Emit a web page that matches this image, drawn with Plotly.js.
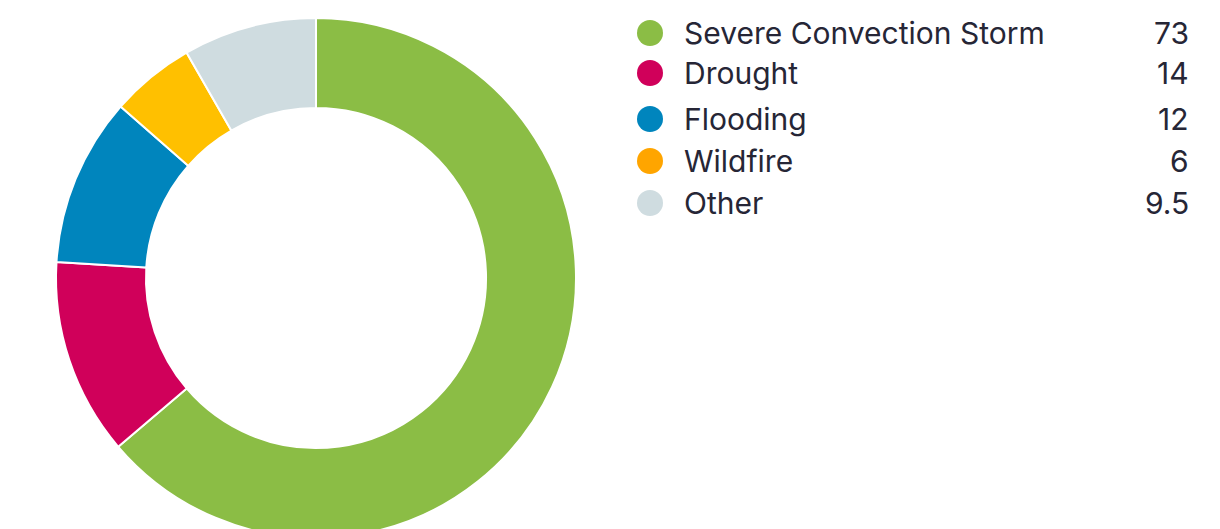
<!DOCTYPE html>
<html><head><meta charset="utf-8">
<script src="https://cdn.plot.ly/plotly-3.0.1.min.js"></script>
<style>html,body{margin:0;padding:0;overflow:hidden;background:#fff;width:1220px;height:529px}</style>
</head><body><div id="chart"></div>
<script>
const categories = ["Severe Convection Storm", "Drought", "Flooding", "Wildfire", "Other"];
const values = [73, 14, 12, 6, 9.5];
const valueLabels = ["73", "14", "12", "6", "9.5"];
const sliceColors = ["#8BBD45", "#D0005A", "#0085BD", "#FFC000", "#CFDCE0"];
const legendColors = ["#8BBD45", "#D0005A", "#0085BD", "#FFA500", "#CFDCE0"];

const W = 1220, H = 556;
const rowY = [33, 73, 119, 161, 203];
const font = "Inter, 'Noto Sans', sans-serif";
const textColor = "#262636";

const annotations = [], shapes = [];
categories.forEach((c, i) => {
  annotations.push({xref:"paper", yref:"paper", x:682/W, y:1-rowY[i]/H, xanchor:"left", yanchor:"middle",
    text:c, showarrow:false, font:{family:font, size:30, color:textColor}});
  annotations.push({xref:"paper", yref:"paper", x:1191/W, y:1-rowY[i]/H, xanchor:"right", yanchor:"middle",
    text:valueLabels[i], showarrow:false, font:{family:font, size:30, color:textColor}});
  shapes.push({type:"circle", xref:"paper", yref:"paper", x0:(650-13)/W, x1:(650+13)/W,
    y0:1-(rowY[i]+13)/H, y1:1-(rowY[i]-13)/H, fillcolor:legendColors[i], line:{width:0}});
});

Plotly.newPlot("chart", [{
  type:"pie", labels:categories, values:values, hole:0.654, sort:false, direction:"clockwise", rotation:0,
  marker:{colors:sliceColors, line:{color:"#ffffff", width:2}},
  textinfo:"none", hoverinfo:"label+value", showlegend:false,
  domain:{x:[56/W, 576/W], y:[1-538/H, 1-18/H]}
}], {
  width:W, height:H, margin:{l:0,r:0,t:0,b:0}, paper_bgcolor:"#fff", showlegend:false,
  annotations:annotations, shapes:shapes
}, {displayModeBar:false, staticPlot:true});
</script></body></html>
